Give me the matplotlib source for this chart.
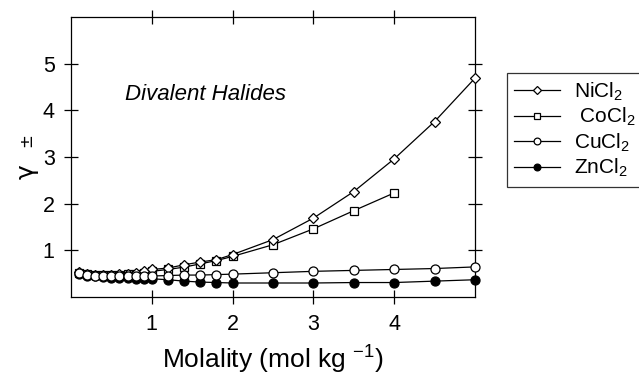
import matplotlib
matplotlib.use("Agg")
import matplotlib.pyplot as plt

plt.rcParams['font.family'] = ['Liberation Sans', 'DejaVu Sans']
plt.rcParams['mathtext.fontset'] = 'custom'
plt.rcParams['mathtext.rm'] = 'Liberation Sans'
plt.rcParams['mathtext.it'] = 'Liberation Sans:italic'

m_low = [0.1, 0.2, 0.3, 0.4, 0.5, 0.6, 0.7, 0.8, 0.9, 1.0]
m_high = [1.2, 1.4, 1.6, 1.8, 2.0, 2.5, 3.0, 3.5, 4.0, 4.5, 5.0]
m_all = m_low + m_high
m_co = m_low + [1.2, 1.4, 1.6, 1.8, 2.0, 2.5, 3.0, 3.5, 4.0]

ni = [0.53, 0.50, 0.48, 0.48, 0.48, 0.49, 0.50, 0.52, 0.55, 0.59,
      0.62, 0.69, 0.75, 0.80, 0.91, 1.23, 1.69, 2.26, 2.96, 3.76, 4.69]
co = [0.52, 0.49, 0.47, 0.47, 0.47, 0.48, 0.49, 0.50, 0.52, 0.55,
      0.59, 0.64, 0.71, 0.78, 0.87, 1.12, 1.46, 1.85, 2.23]
cu = [0.52, 0.48, 0.46, 0.45, 0.44, 0.44, 0.44, 0.44, 0.44, 0.45,
      0.46, 0.47, 0.47, 0.48, 0.49, 0.52, 0.55, 0.57, 0.59, 0.61, 0.645]
zn = [0.50, 0.46, 0.44, 0.42, 0.41, 0.40, 0.40, 0.39, 0.39, 0.39,
      0.37, 0.34, 0.32, 0.31, 0.30, 0.30, 0.30, 0.31, 0.31, 0.34, 0.37]

labels = ['NiCl$_2$', ' CoCl$_2$', 'CuCl$_2$', 'ZnCl$_2$']

fig = plt.figure(figsize=(6.39, 3.76), dpi=100)
ax = fig.add_axes([71/639, 1-297/376, (475-71)/639, (297-17)/376])

lw = 0.9
ms = 6.5
h_ni, = ax.plot(m_all, ni, '-', color='black', lw=lw, marker='D', ms=5.5,
                mfc='white', mec='black', mew=0.9, zorder=3, label=labels[0])
h_co, = ax.plot(m_co, co, '-', color='black', lw=lw, marker='s', ms=5.5,
                mfc='white', mec='black', mew=0.9, zorder=2, label=labels[1])
h_zn, = ax.plot(m_all, zn, '-', color='black', lw=lw, marker='o', ms=ms,
                mfc='black', mec='black', mew=0.9, zorder=4, label=labels[3])
h_cu, = ax.plot(m_all, cu, '-', color='black', lw=lw, marker='o', ms=ms,
                mfc='white', mec='black', mew=0.9, zorder=5, label=labels[2])

for h in (h_ni, h_co, h_zn, h_cu):
    h.set_clip_on(False)

ax.set_xlim(0, 5)
ax.set_ylim(0, 6)
ax.set_xticks([1, 2, 3, 4])
ax.set_yticks([1, 2, 3, 4, 5])
ax.tick_params(direction='inout', length=10.5, width=0.9, labelsize=15.5,
               top=True, right=True)
ax.tick_params(axis='x', pad=7)
ax.tick_params(axis='y', pad=6.5)
for s in ax.spines.values():
    s.set_linewidth(0.9)

ax.set_xlabel('Molality (mol kg $^{-1}$)', fontsize=19, labelpad=6)
fig.text(27/639, 1-172/376, 'γ', fontsize=18, rotation=90,
         ha='center', va='center', family='DejaVu Sans')
fig.text(26/639, 1-140/376, '±', fontsize=12, rotation=90,
         ha='center', va='center', family='DejaVu Sans')

fig.text(125/639, 1-95/376, 'Divalent Halides', fontsize=16, style='italic',
         ha='left', va='center')

leg = fig.legend([h_ni, h_co, h_cu, h_zn], labels, loc='upper left',
                 bbox_to_anchor=(507/639, 1-73/376), fontsize=15,
                 frameon=True, fancybox=False, edgecolor='black',
                 handlelength=2.2, handletextpad=0.65, labelspacing=0.16,
                 borderpad=0.35, borderaxespad=0, markerscale=0.75)
leg.get_frame().set_linewidth(0.9)

fig.savefig('out.png', dpi=100)
